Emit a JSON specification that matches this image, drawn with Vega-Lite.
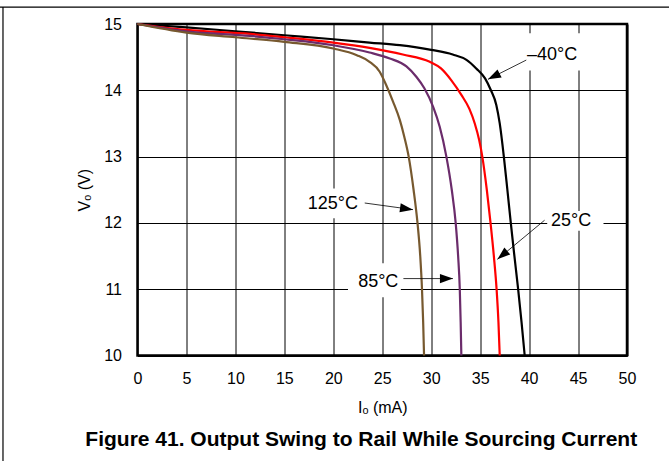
{
  "$schema": "https://vega.github.io/schema/vega-lite/v6.json",
  "width": 489.5,
  "height": 331.5,
  "autosize": {"type": "none"},
  "padding": {"left": 137.5, "top": 24, "right": 42, "bottom": 105.5},
  "background": "white",
  "config": {
    "font": "Liberation Sans",
    "view": {"stroke": "black", "strokeWidth": 2.5},
    "axis": {
      "grid": true, "gridColor": "#000000", "gridWidth": 1, "gridOpacity": 1,
      "ticks": false, "domain": false, "labelFlush": false, "format": "d",
      "labelFont": "Liberation Sans", "labelFontSize": 16, "labelColor": "#000000",
      "titleFont": "Liberation Sans", "titleFontSize": 16, "titleFontWeight": "normal", "titleColor": "#000000"
    }
  },
  "title": {
    "text": "Figure 41. Output Swing to Rail While Sourcing Current",
    "orient": "bottom", "anchor": "middle", "frame": "group",
    "font": "Liberation Sans", "fontSize": 21, "fontWeight": "bold", "color": "#000000",
    "offset": -33, "dx": -21
  },
  "datasets": {
    "curves": [
      {"temp": "-40°C", "I": 0, "V": 15}, {"temp": "-40°C", "I": 5, "V": 14.95}, {"temp": "-40°C", "I": 10, "V": 14.89},
      {"temp": "-40°C", "I": 15, "V": 14.83}, {"temp": "-40°C", "I": 20, "V": 14.77}, {"temp": "-40°C", "I": 23.7, "V": 14.72},
      {"temp": "-40°C", "I": 26.8, "V": 14.68}, {"temp": "-40°C", "I": 30, "V": 14.61}, {"temp": "-40°C", "I": 32.2, "V": 14.54},
      {"temp": "-40°C", "I": 33.6, "V": 14.46}, {"temp": "-40°C", "I": 34.6, "V": 14.33}, {"temp": "-40°C", "I": 35.5, "V": 14.18},
      {"temp": "-40°C", "I": 36.1, "V": 14.0}, {"temp": "-40°C", "I": 36.65, "V": 13.78}, {"temp": "-40°C", "I": 37.0, "V": 13.5},
      {"temp": "-40°C", "I": 37.42, "V": 13.0}, {"temp": "-40°C", "I": 37.78, "V": 12.5}, {"temp": "-40°C", "I": 38.13, "V": 12.0},
      {"temp": "-40°C", "I": 38.5, "V": 11.5}, {"temp": "-40°C", "I": 38.88, "V": 11.0}, {"temp": "-40°C", "I": 39.23, "V": 10.5},
      {"temp": "-40°C", "I": 39.55, "V": 10.0},

      {"temp": "25°C", "I": 0, "V": 15}, {"temp": "25°C", "I": 5, "V": 14.91}, {"temp": "25°C", "I": 11.5, "V": 14.85},
      {"temp": "25°C", "I": 15, "V": 14.8}, {"temp": "25°C", "I": 20, "V": 14.72}, {"temp": "25°C", "I": 23.7, "V": 14.64},
      {"temp": "25°C", "I": 27.1, "V": 14.54}, {"temp": "25°C", "I": 29.85, "V": 14.43}, {"temp": "25°C", "I": 31.0, "V": 14.33},
      {"temp": "25°C", "I": 32.06, "V": 14.15}, {"temp": "25°C", "I": 33.08, "V": 13.93}, {"temp": "25°C", "I": 33.9, "V": 13.72},
      {"temp": "25°C", "I": 34.45, "V": 13.5}, {"temp": "25°C", "I": 34.9, "V": 13.25}, {"temp": "25°C", "I": 35.22, "V": 13.0},
      {"temp": "25°C", "I": 35.68, "V": 12.5}, {"temp": "25°C", "I": 36.06, "V": 12.0}, {"temp": "25°C", "I": 36.4, "V": 11.5},
      {"temp": "25°C", "I": 36.68, "V": 11.0}, {"temp": "25°C", "I": 36.87, "V": 10.5}, {"temp": "25°C", "I": 37.0, "V": 10.0},

      {"temp": "85°C", "I": 0, "V": 15}, {"temp": "85°C", "I": 5, "V": 14.89}, {"temp": "85°C", "I": 11.5, "V": 14.82},
      {"temp": "85°C", "I": 15, "V": 14.77}, {"temp": "85°C", "I": 20, "V": 14.68}, {"temp": "85°C", "I": 23.7, "V": 14.57},
      {"temp": "85°C", "I": 25.77, "V": 14.48}, {"temp": "85°C", "I": 27.47, "V": 14.36}, {"temp": "85°C", "I": 28.5, "V": 14.2},
      {"temp": "85°C", "I": 29.3, "V": 14.03}, {"temp": "85°C", "I": 30.2, "V": 13.75}, {"temp": "85°C", "I": 30.87, "V": 13.45},
      {"temp": "85°C", "I": 31.55, "V": 13.0}, {"temp": "85°C", "I": 32.1, "V": 12.5}, {"temp": "85°C", "I": 32.5, "V": 12.0},
      {"temp": "85°C", "I": 32.75, "V": 11.5}, {"temp": "85°C", "I": 32.92, "V": 11.0}, {"temp": "85°C", "I": 33.01, "V": 10.5},
      {"temp": "85°C", "I": 33.08, "V": 10.0},

      {"temp": "125°C", "I": 0, "V": 15}, {"temp": "125°C", "I": 5, "V": 14.87}, {"temp": "125°C", "I": 10, "V": 14.8},
      {"temp": "125°C", "I": 15, "V": 14.73}, {"temp": "125°C", "I": 20, "V": 14.63}, {"temp": "125°C", "I": 22.4, "V": 14.53},
      {"temp": "125°C", "I": 23.7, "V": 14.43}, {"temp": "125°C", "I": 24.74, "V": 14.28}, {"temp": "125°C", "I": 25.4, "V": 14.08},
      {"temp": "125°C", "I": 26.1, "V": 13.83}, {"temp": "125°C", "I": 26.8, "V": 13.55}, {"temp": "125°C", "I": 27.25, "V": 13.3},
      {"temp": "125°C", "I": 27.7, "V": 13.0}, {"temp": "125°C", "I": 28.2, "V": 12.5}, {"temp": "125°C", "I": 28.6, "V": 12.0},
      {"temp": "125°C", "I": 28.88, "V": 11.5}, {"temp": "125°C", "I": 29.06, "V": 11.0}, {"temp": "125°C", "I": 29.18, "V": 10.5},
      {"temp": "125°C", "I": 29.27, "V": 10.0}
    ],
    "labels": [
      {"label": "–40°C", "tx": 42.35, "ty": 14.53, "ax": 39.71, "ay": 14.456, "hx": 35.8, "hy": 14.165, "bx1": 39.2, "bx2": 46.0, "by1": 14.86, "by2": 14.3},
      {"label": "25°C", "tx": 44.3, "ty": 12.03, "ax": 41.58, "ay": 12.04, "hx": 36.76, "hy": 11.45, "bx1": 41.85, "bx2": 47.6, "by1": 12.18, "by2": 11.88},
      {"label": "125°C", "tx": 19.95, "ty": 12.29, "ax": 23.21, "ay": 12.3, "hx": 28.14, "hy": 12.2, "bx1": 17.0, "bx2": 23.5, "by1": 12.52, "by2": 12.07},
      {"label": "85°C", "tx": 24.59, "ty": 11.11, "ax": 27.16, "ay": 11.16, "hx": 32.22, "hy": 11.16, "bx1": 21.5, "bx2": 26.9, "by1": 11.39, "by2": 10.88}
    ],
    "frame": [
      {"part": "top", "x1": -14.1, "x2": 54.3, "y1": 15.256, "y2": 15.256},
      {"part": "left", "x1": -13.74, "x2": -13.74, "y1": 15.256, "y2": 8.4}
    ]
  },
  "layer": [
    {
      "data": {"name": "labels"},
      "mark": {"type": "rect", "fill": "white", "stroke": null},
      "encoding": {
        "x": {"field": "bx1", "type": "quantitative", "scale": {"domain": [0, 50], "nice": false, "zero": false},
              "axis": {"values": [0, 5, 10, 15, 20, 25, 30, 35, 40, 45, 50], "labelPadding": 15, "title": "Iₒ (mA)", "titlePadding": 13}},
        "x2": {"field": "bx2"},
        "y": {"field": "by1", "type": "quantitative", "scale": {"domain": [10, 15], "nice": false, "zero": false},
              "axis": {"values": [10, 11, 12, 13, 14, 15], "labelPadding": 16, "title": "Vₒ (V)", "titlePadding": 11}},
        "y2": {"field": "by2"}
      }
    },
    {
      "data": {"name": "frame"},
      "mark": {"type": "rule", "stroke": "#000000", "strokeWidth": 1.2},
      "encoding": {
        "x": {"field": "x1", "type": "quantitative"},
        "x2": {"field": "x2"},
        "y": {"field": "y1", "type": "quantitative"},
        "y2": {"field": "y2"}
      }
    },
    {
      "data": {"name": "curves"},
      "mark": {"type": "line", "strokeWidth": 2.2, "interpolate": "monotone"},
      "encoding": {
        "x": {"field": "I", "type": "quantitative"},
        "y": {"field": "V", "type": "quantitative"},
        "color": {"field": "temp", "type": "nominal", "legend": null,
                  "scale": {"domain": ["-40°C", "25°C", "85°C", "125°C"], "range": ["#000000", "#ff0000", "#6b2c6b", "#77592f"]}}
      }
    },
    {
      "data": {"name": "labels"},
      "mark": {"type": "rule", "stroke": "#000000", "strokeWidth": 0.8},
      "encoding": {
        "x": {"field": "ax", "type": "quantitative"},
        "y": {"field": "ay", "type": "quantitative"},
        "x2": {"field": "hx"},
        "y2": {"field": "hy"}
      }
    },
    {
      "data": {"name": "labels"},
      "transform": [{"filter": "datum.label === '–40°C'"}],
      "mark": {"type": "point", "shape": "M0,0L-0.7,2L0.7,2Z", "filled": true, "color": "#000000", "opacity": 1, "size": 169, "angle": 243},
      "encoding": {"x": {"field": "hx", "type": "quantitative"}, "y": {"field": "hy", "type": "quantitative"}}
    },
    {
      "data": {"name": "labels"},
      "transform": [{"filter": "datum.label === '25°C'"}],
      "mark": {"type": "point", "shape": "M0,0L-0.7,2L0.7,2Z", "filled": true, "color": "#000000", "opacity": 1, "size": 169, "angle": 230},
      "encoding": {"x": {"field": "hx", "type": "quantitative"}, "y": {"field": "hy", "type": "quantitative"}}
    },
    {
      "data": {"name": "labels"},
      "transform": [{"filter": "datum.label === '125°C'"}],
      "mark": {"type": "point", "shape": "M0,0L-0.7,2L0.7,2Z", "filled": true, "color": "#000000", "opacity": 1, "size": 169, "angle": 98},
      "encoding": {"x": {"field": "hx", "type": "quantitative"}, "y": {"field": "hy", "type": "quantitative"}}
    },
    {
      "data": {"name": "labels"},
      "transform": [{"filter": "datum.label === '85°C'"}],
      "mark": {"type": "point", "shape": "M0,0L-0.7,2L0.7,2Z", "filled": true, "color": "#000000", "opacity": 1, "size": 169, "angle": 90},
      "encoding": {"x": {"field": "hx", "type": "quantitative"}, "y": {"field": "hy", "type": "quantitative"}}
    },
    {
      "data": {"name": "labels"},
      "mark": {"type": "text", "fontSize": 18, "font": "Liberation Sans", "color": "#000000", "align": "center", "baseline": "middle"},
      "encoding": {
        "x": {"field": "tx", "type": "quantitative"},
        "y": {"field": "ty", "type": "quantitative"},
        "text": {"field": "label"}
      }
    }
  ]
}
